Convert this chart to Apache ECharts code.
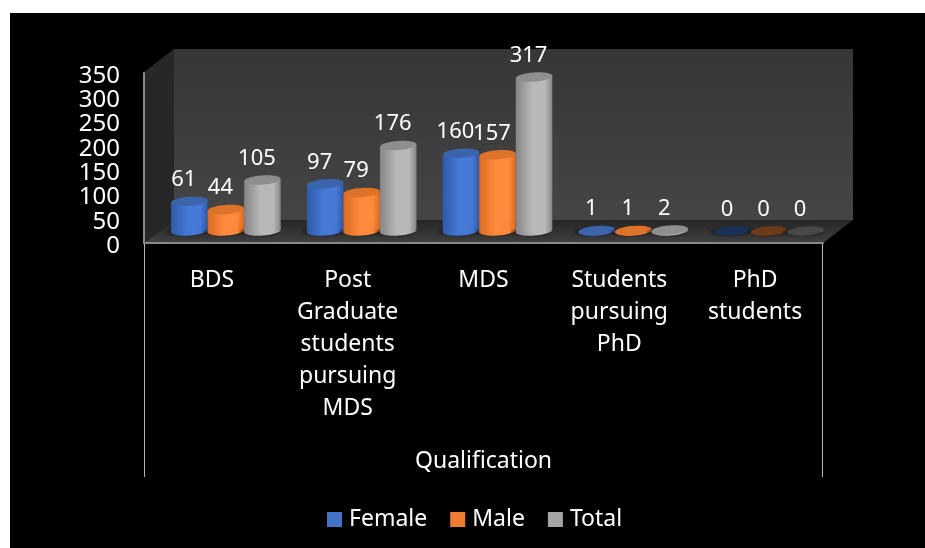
<!DOCTYPE html>
<html><head><meta charset="utf-8">
<style>html,body{margin:0;padding:0;background:#fff}#c{width:925px;height:548px}</style>
<script src="https://cdn.jsdelivr.net/npm/echarts@6/dist/echarts.min.js"></script>
</head><body><div id="c"></div>
<script>
const categories = ['BDS','Post\nGraduate\nstudents\npursuing\nMDS','MDS','Students\npursuing\nPhD','PhD\nstudents'];
const female = [61,97,160,1,0];
const male = [44,79,157,1,0];
const total = [105,176,317,2,0];
const seriesNames = ['Female','Male','Total'];
const yTicks = {min:0,max:350,interval:50};
const FONT = '"Noto Sans", sans-serif';

const palette = [
  {edge:'#2f5aa6',mid:'#4679d8',cap:'#3c64ad',legend:'#4472C4',zero:'#1b3058'},
  {edge:'#d96a22',mid:'#ff8a3c',cap:'#dd7329',legend:'#ED7D31',zero:'#6e3a18'},
  {edge:'#858585',mid:'#b8b8b8',cap:'#8e8e8e',legend:'#A5A5A5',zero:'#484848'}
];
const DX = 14, DY = -12, TILT = 0.07, RY = 4.6, LABEL_UP = 33.5, LABEL_DX = -5.5;

function cyl(idx){
  const p = palette[idx];
  return function(params, api){
    const v = api.value(1);
    const c0 = api.coord([api.value(0), 0]);
    const c1 = api.coord([api.value(0), v]);
    const band = api.size([1,0])[0];
    const w = band*0.269, r = w/2;
    const x = c0[0] + DX + (idx-1)*w;
    const yb = c0[1] + DY, yt = c1[1] + DY;
    const d = r*Math.tan(TILT);
    const grad = new echarts.graphic.LinearGradient(0,0,1,0,[
      {offset:0,color:p.edge},{offset:0.45,color:p.mid},{offset:0.8,color:p.mid},{offset:1,color:p.edge}]);
    const kids = [];
    kids.push({type:'ellipse',shape:{cx:x-3,cy:yb+1,rx:r+2,ry:RY},
      style:{fill:'rgba(0,0,0,0.22)',shadowBlur:10,shadowColor:'rgba(0,0,0,0.45)'}});
    if (v > 0){
      kids.push({type:'polygon',shape:{points:[[x-r,yt+d],[x+r,yt-d],[x+r,yb-d],[x-r,yb+d]]},style:{fill:grad}});
      kids.push({type:'ellipse',shape:{cx:x,cy:yb,rx:r,ry:RY},rotation:TILT,originX:x,originY:yb,style:{fill:grad}});
    }
    kids.push({type:'ellipse',shape:{cx:x,cy:yt,rx:r,ry:RY},rotation:TILT,originX:x,originY:yt,
      style:{fill:v>0?p.cap:p.zero}});
    kids.push({type:'text',style:{text:String(v),x:x+LABEL_DX,y:c1[1]-LABEL_UP,fill:'#fff',
      font:'22px '+FONT,textAlign:'center',textVerticalAlign:'middle'}});
    return {type:'group',children:kids};
  };
}
function mk(i,vals){
  return {name:seriesNames[i],type:'custom',renderItem:cyl(i),clip:false,
    itemStyle:{color:palette[i].legend},
    encode:{x:0,y:1},data:vals.map((v,k)=>[k,v])};
}
const Z=-10;
const chart = echarts.init(document.getElementById('c'),null,{renderer:'canvas'});
chart.setOption({
  animation:false,
  backgroundColor:'#fff',
  textStyle:{fontFamily:FONT},
  grid:{left:144,right:102,top:73,bottom:305,containLabel:false},
  xAxis:{type:'category',data:categories,
    name:'Qualification',nameLocation:'middle',nameGap:207,
    nameTextStyle:{color:'#fff',fontSize:23,fontFamily:FONT},
    axisLine:{show:true,lineStyle:{color:'#8a8a8a',width:2}},
    axisTick:{show:false},
    axisLabel:{color:'#fff',fontSize:23,fontFamily:FONT,lineHeight:32,margin:21,interval:0,verticalAlign:'top'}},
  yAxis:{type:'value',min:yTicks.min,max:yTicks.max,interval:yTicks.interval,
    axisLine:{show:true,lineStyle:{color:'#8a8a8a',width:2}},
    axisTick:{show:false},splitLine:{show:false},
    axisLabel:{color:'#fff',fontSize:24,fontFamily:FONT,margin:24,verticalAlign:'top',lineHeight:6}},
  legend:{left:322,top:503,icon:'rect',itemWidth:15,itemHeight:15,itemGap:23,
    textStyle:{color:'#fff',fontSize:23,fontFamily:FONT,padding:[0,0,0,2]},
    data:seriesNames},
  graphic:[
    {type:'rect',z:Z,shape:{x:10,y:13,width:915,height:535},style:{fill:'#000'}},
    {type:'polygon',z:Z,shape:{points:[[144,72],[174,49],[174,220],[144,243]]},style:{fill:'#272727'}},
    {type:'rect',z:Z,shape:{x:174,y:49,width:679,height:171},
      style:{fill:new echarts.graphic.LinearGradient(0,0,0,1,[{offset:0,color:'#363636'},{offset:1,color:'#454545'}])}},
    {type:'polygon',z:Z,shape:{points:[[174,220],[853,220],[823,243],[144,243]]},
      style:{fill:new echarts.graphic.LinearGradient(0,0,0,1,[{offset:0,color:'#262626'},{offset:1,color:'#404040'}])}},
    {type:'line',z:Z,shape:{x1:144.5,y1:243,x2:144.5,y2:477},style:{stroke:'#b5b5b5',lineWidth:1}},
    {type:'line',z:Z,shape:{x1:822.5,y1:243,x2:822.5,y2:477},style:{stroke:'#b5b5b5',lineWidth:1}}
  ],
  series:[mk(0,female),mk(1,male),mk(2,total)]
});
</script></body></html>
